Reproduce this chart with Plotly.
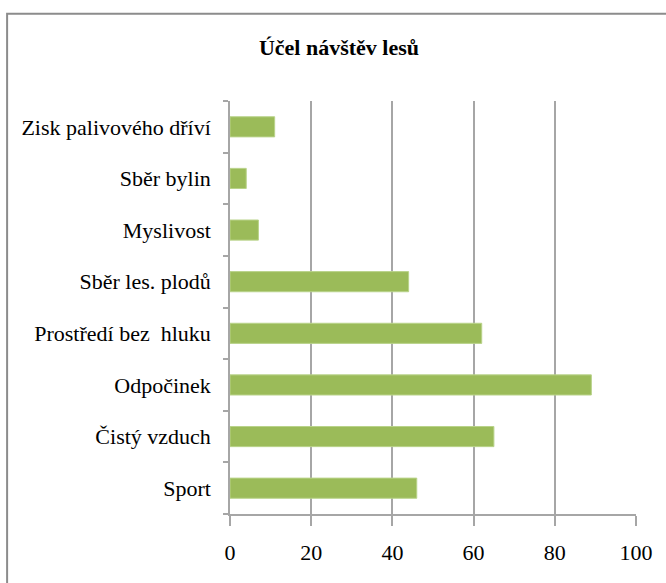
import plotly.graph_objects as go

# data (bottom to top, as drawn)
kategorie = ['Sport', 'Čistý vzduch', 'Odpočinek', 'Prostředí bez  hluku',
             'Sběr les. plodů', 'Myslivost', 'Sběr bylin', 'Zisk palivového dříví']
hodnoty = [46, 65, 89, 62, 44, 7, 4, 11]
x_ticks = [0, 20, 40, 60, 80, 100]

FONT = 'Liberation Serif, Times New Roman, serif'
ZELENA = '#9bbb59'
SEDA = '#a6a6a6'

fig = go.Figure()

fig.add_trace(go.Bar(
    x=hodnoty,
    y=kategorie,
    orientation='h',
    marker=dict(color=ZELENA, line=dict(color='#b9d38a', width=1)),
    hoverinfo='x+y'
))

fig.update_layout(
    width=666,
    height=583,
    paper_bgcolor='white',
    plot_bgcolor='white',
    showlegend=False,
    bargap=0.61,
    margin=dict(l=230, r=30, t=101, b=69),
    font=dict(family=FONT, size=22, color='black'),
    title=dict(text='<b>Účel návštěv lesů</b>', xref='container', x=0.509,
               xanchor='center', yref='container', y=0.919, yanchor='middle',
               font=dict(family=FONT, size=22, color='black')),
)

fig.update_xaxes(
    range=[0, 100],
    tickvals=x_ticks,
    showgrid=True, gridcolor=SEDA, gridwidth=1.5,
    zeroline=False,
    showline=True, linecolor=SEDA, linewidth=1.5,
    ticks='outside', ticklen=10, tickcolor=SEDA, tickwidth=1.5,
    ticklabelstandoff=8,
    tickfont=dict(family=FONT, size=22, color='black'),
)

fig.update_yaxes(
    categoryorder='array', categoryarray=kategorie,
    showgrid=False,
    showline=True, linecolor=SEDA, linewidth=1.5,
    ticks='outside', ticklen=5, tickcolor=SEDA, tickwidth=1.5,
    tickson='boundaries',
    ticklabelstandoff=13,
    tickfont=dict(family=FONT, size=22, color='black'),
)

# chart frame (runs off the right and bottom edge like the original)
fig.add_shape(type='rect', xref='paper', yref='paper',
              x0=-0.549, x1=1.09, y0=-0.2, y1=1.211,
              line=dict(color='#8c8c8c', width=2), layer='below')

# no page margin, so the figure sits at the top-left corner
fig.write_html('out.html', config={'displayModeBar': False},
               post_script="document.body.style.margin='0';")
